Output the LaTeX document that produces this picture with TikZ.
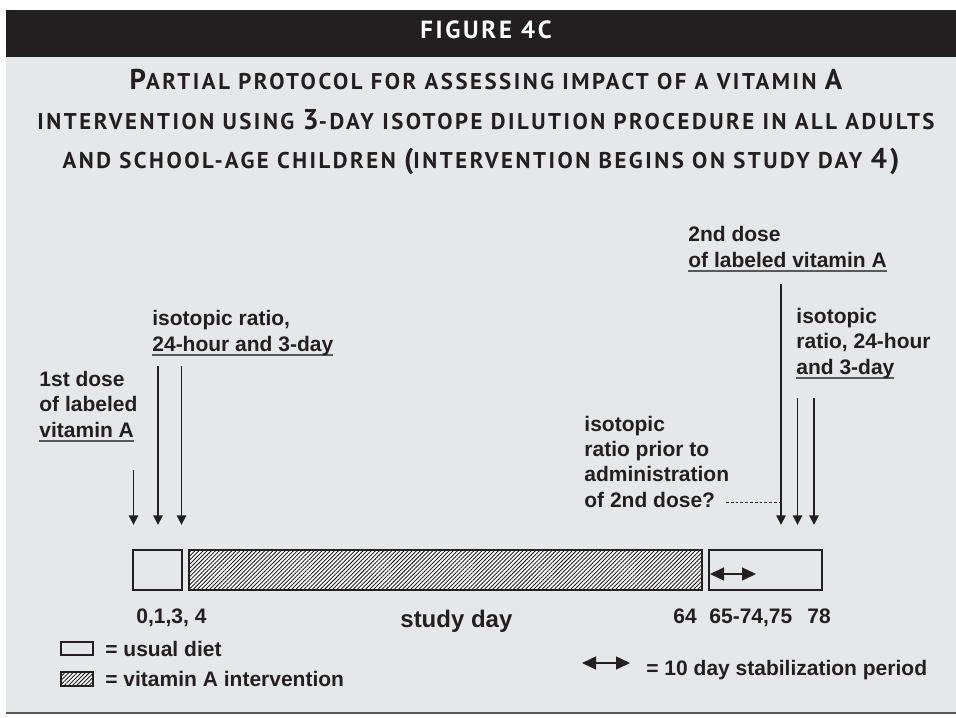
\documentclass[tikz,border=0pt]{standalone}
\usepackage{fontspec}
\setmainfont{Liberation Sans}
\newfontfamily\headfont[LetterSpace=11]{PT Sans}
\usepackage{tikz}
\usetikzlibrary{arrows.meta,positioning,patterns.meta}
\definecolor{ink}{RGB}{35,31,32}
\definecolor{panel}{RGB}{230,231,232}
\definecolor{rulegray}{RGB}{88,89,91}
\newcommand{\capbig}[1]{{\fontsize{14.3}{14.3}\selectfont #1}}
\newcommand{\lbline}[1]{\leavevmode\setbox0\hbox{#1}\rlap{\color{rulegray}\rule[-2.4pt]{\wd0}{0.8pt}}\box0}

\begin{document}
\begin{tikzpicture}[x=0.5pt, y=-0.5pt, line join=miter, >=Latex,
    lbl/.style={font=\bfseries\fontsize{10.5}{12.6}\selectfont, text=ink, inner sep=0pt, align=left},
    headtext/.style={font=\headfont\bfseries\fontsize{11.4}{11.4}\selectfont, inner sep=0pt},
    daybox/.style={draw=ink, line width=1pt, minimum height=20pt, inner sep=0pt},
    hatched/.style={preaction={fill=white}, pattern={Lines[angle=45,distance=1.45pt,line width=0.45pt]}, pattern color=ink},
    markarrow/.style={draw=ink, line width=0.8pt, -{Triangle[length=4.8pt,width=4.6pt]}},
    stabarrow/.style={draw=ink, line width=0.7pt, {Triangle[length=7pt,width=6.5pt]}-{Triangle[length=7pt,width=6.5pt]}},
    qline/.style={draw=ink, line width=0.4pt, dash pattern=on 1.4pt off 1pt}]
    \useasboundingbox (0,0) rectangle (956,717);

    % panel, header band and bottom rule
    \fill[ink] (6,10) rectangle (956,57);
    \fill[panel] (6,57) rectangle (956,712);
    \draw[rulegray, line width=1pt] (6,713) -- (956,713);

    \node[headtext, text=white, anchor=base, font=\headfont\bfseries\fontsize{12.4}{12.4}\selectfont] (fig) at (486,39) {FIGURE 4C};
    \node[headtext, text=ink, anchor=base] (t1) at (486,90)
        {\capbig{P}ARTIAL PROTOCOL FOR ASSESSING IMPACT OF A VITAMIN \capbig{A}};
    \node[headtext, text=ink, anchor=base] (t2) at (486,129)
        {INTERVENTION USING \capbig{3}-DAY ISOTOPE DILUTION PROCEDURE IN ALL ADULTS};
    \node[headtext, text=ink, anchor=base] (t3) at (481,168)
        {AND SCHOOL-AGE CHILDREN \capbig{(}INTERVENTION BEGINS ON STUDY DAY \capbig{4)}};

    % timeline boxes
    \node[daybox, minimum width=24.5pt] (usual) at (157.5,570) {};
    \node[daybox, hatched, minimum width=256.5pt] (interv) at (445.5,570) {};
    \node[daybox, minimum width=56.5pt] (post) at (765.5,570) {};
    \draw[stabarrow] ([xshift=1pt,yshift=-2pt]post.west) -- ++(46,0);

    % sampling and dosing arrows
    \foreach \n/\x/\y in {d1/133.5/470, r1/158/366, r2/181.5/366, d2/781/284, r3/797.5/398, r4/814/398} {
        \coordinate (\n-top) at (\x,\y);
        \coordinate (\n-tip) at (\x,525);
    }
    \foreach \n in {d1,r1,r2,d2,r3,r4} \draw[markarrow] (\n-top) -- (\n-tip);

    % labels sit on the baseline of their last line
    \node[lbl, anchor=base west] (dose1) at (39,437) {1st dose\\of labeled\\\lbline{vitamin A}};
    \node[lbl, anchor=base west] (ratio1) at (152,351) {isotopic ratio,\\\lbline{24-hour and 3-day}};
    \node[lbl, anchor=base west] (dose2) at (688,267) {2nd dose\\\lbline{of labeled vitamin A}};
    \node[lbl, anchor=base west] (ratio2) at (796,374) {isotopic\\ratio, 24-hour\\\lbline{and 3-day}};
    \node[lbl, anchor=base west] (prior) at (584,507) {isotopic\\ratio prior to\\administration\\of 2nd dose?};
    \coordinate (q-end) at (726,502);
    \draw[qline] (q-end) -- (d2-top |- q-end);

    % day numbers
    \node[lbl, anchor=base west] (d0) at (136,623) {0,1,3, 4};
    \node[lbl, anchor=base west, font=\bfseries\fontsize{12}{14}\selectfont] (sday) at (400,627) {study day};
    \node[lbl, anchor=base west] (d64) at (673,623) {64};
    \node[lbl, anchor=base west] (d65) at (709,623) {65-74,75};
    \node[lbl, anchor=base west] (d78) at (807,623) {78};

    % key
    \node[daybox, minimum width=16pt, minimum height=6.5pt] (keyusual) at (77,648.5) {};
    \node[lbl, right=5.5pt of keyusual] (keyusualtxt) {= usual diet};
    \node[daybox, hatched, minimum width=16pt, minimum height=7pt] (keyint) at (77,679) {};
    \node[lbl, right=5.5pt of keyint] (keyinttxt) {= vitamin A intervention};
    \coordinate (k1) at (582,663);
    \coordinate (k2) at (630,663);
    \draw[stabarrow] (k1) -- (k2);
    \node[lbl, anchor=base west] (keystabtxt) at (646,675) {= 10 day stabilization period};
\end{tikzpicture}
\end{document}
